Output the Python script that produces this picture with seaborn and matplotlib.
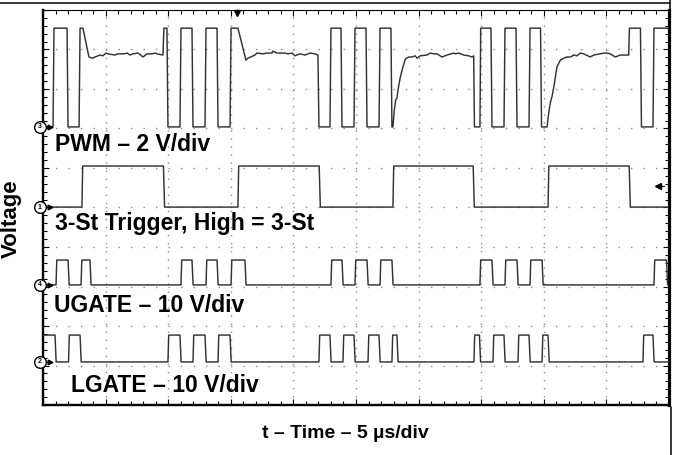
import matplotlib
matplotlib.use("Agg")
import matplotlib.pyplot as plt
import pandas as pd
import seaborn as sns
from matplotlib.lines import Line2D
from matplotlib.ticker import MultipleLocator

# ---------------- data (time in µs, 5 µs/div; voltage in screen divisions) -------------
pwm_time = [0.00, 0.80, 0.88, 1.92, 2.00, 2.88, 2.96, 3.19, 3.67, 3.99,
            4.15, 4.55, 4.79, 5.03, 5.19, 5.75, 5.99, 6.47, 6.71, 6.95,
            7.19, 7.59, 7.99, 8.31, 8.71, 8.95, 9.11, 9.58, 9.66, 9.90,
            9.98, 10.94, 11.02, 11.90, 11.98, 12.94, 13.02, 13.90, 13.98, 14.94,
            15.02, 15.57, 16.21, 16.37, 16.93, 17.09, 17.57, 17.89, 18.29, 18.37,
            18.69, 19.33, 19.57, 19.89, 20.13, 20.53, 20.93, 21.33, 21.72, 21.96,
            22.04, 22.92, 23.00, 23.80, 23.88, 24.84, 24.92, 25.80, 25.88, 26.84,
            26.92, 27.79, 27.87, 27.95, 28.06, 28.17, 28.27, 28.35, 28.54, 28.75,
            28.94, 29.21, 29.47, 29.74, 29.87, 30.13, 30.67, 30.93, 31.21, 31.47,
            31.87, 32.27, 32.80, 32.93, 33.20, 33.60, 34.00, 34.26, 34.40, 34.46,
            34.90, 34.96, 35.78, 35.86, 36.82, 36.90, 37.78, 37.86, 38.82, 38.90,
            39.74, 39.82, 40.26, 40.39, 40.52, 40.65, 40.79, 40.92, 41.05, 41.32,
            41.59, 41.85, 42.12, 42.39, 42.65, 42.91, 43.19, 43.71, 43.98, 44.51,
            44.78, 45.05, 45.31, 45.71, 46.11, 46.64, 46.78, 46.84, 47.72, 47.80,
            48.72, 48.80, 50.00]
pwm_volt = [7.04, 7.04, 9.54, 9.54, 7.04, 7.04, 9.54, 9.54, 8.81, 8.78,
            8.81, 8.86, 8.84, 8.91, 8.89, 8.86, 8.89, 8.89, 8.91, 8.86,
            8.89, 8.91, 8.81, 8.89, 8.89, 8.91, 8.89, 8.86, 9.54, 9.54,
            7.04, 7.04, 9.54, 9.54, 7.04, 7.04, 9.54, 9.54, 7.04, 7.04,
            9.54, 9.54, 8.73, 8.78, 8.86, 8.91, 8.89, 8.91, 8.91, 8.96,
            8.91, 8.91, 8.89, 8.91, 8.84, 8.89, 8.86, 8.91, 8.89, 8.86,
            7.04, 7.04, 9.54, 9.54, 7.04, 7.04, 9.54, 9.54, 7.04, 7.04,
            9.54, 9.54, 7.04, 7.04, 7.47, 7.72, 7.77, 7.97, 8.30, 8.56,
            8.76, 8.81, 8.81, 8.84, 8.78, 8.84, 8.86, 8.91, 8.89, 8.89,
            8.81, 8.86, 8.91, 8.89, 8.91, 8.86, 8.84, 8.81, 8.84, 7.04,
            7.04, 9.54, 9.54, 7.04, 7.04, 9.54, 9.54, 7.04, 7.04, 9.54,
            9.54, 7.04, 7.04, 7.39, 7.65, 7.80, 8.03, 8.30, 8.56, 8.73,
            8.78, 8.81, 8.81, 8.86, 8.84, 8.91, 8.89, 8.81, 8.86, 8.89,
            8.91, 8.91, 8.89, 8.81, 8.86, 8.86, 8.86, 9.54, 9.54, 7.04,
            7.04, 9.54, 9.54]

trig_rise = [3.11, 15.57, 27.95, 40.34]
trig_fall = [9.62, 22.06, 34.36, 46.82]
trig_levels = [5.01, 6.05]

ugate_rise = [1.04, 3.04, 11.02, 13.02, 15.02, 23.00, 24.92, 26.92, 34.90, 36.90, 38.90, 48.80]
ugate_fall = [2.00, 3.75, 11.90, 13.90, 16.13, 23.88, 25.88, 27.87, 35.86, 37.86, 39.86, 49.80]
ugate_levels = [3.04, 3.67]

lgate_rise = [0.00, 2.04, 9.98, 11.98, 13.98, 22.04, 23.96, 25.96, 27.87, 34.42, 35.94, 37.94, 39.86, 47.92]
lgate_fall = [0.96, 2.96, 10.94, 12.94, 14.94, 22.92, 24.84, 26.84, 28.27, 34.86, 36.82, 38.82, 40.34, 48.72]
lgate_levels = [1.09, 1.77]

channel_ids = ["3", "1", "4", "2"]
channel_ground = [7.04, 5.01, 3.04, 1.09]
channel_labels = ["PWM \u2013 2 V/div", "3-St Trigger, High = 3-St",
                  "UGATE \u2013 10 V/div", "LGATE \u2013 10 V/div"]
label_pos_t = [0.96, 0.96, 0.88, 2.24]
label_pos_v = [6.43, 4.43, 2.35, 0.33]

trigger_time = 15.5
trigger_level = 5.54


def step_wave(rises, falls, levels, t0=0.0, t1=50.0, edge=0.06):
    low, high = levels
    pts = []
    for s, e in zip(rises, falls):
        if s <= t0:
            pts.append((t0, high))
        else:
            if not pts:
                pts.append((t0, low))
            pts += [(s, low), (s + edge, high)]
        if e >= t1:
            pts.append((t1, high))
        else:
            pts += [(e, high), (e + edge * 1.5, low)]
    if pts[-1][0] < t1:
        pts.append((t1, low))
    return pd.DataFrame(pts, columns=["t", "v"])


sns.set_theme(style="white")
plt.rcParams['font.family'] = ['Liberation Sans', 'DejaVu Sans']

fig = plt.figure(figsize=(6.77, 4.55), dpi=100)
ax = fig.add_axes([43 / 677, 50 / 455, 626 / 677, 395 / 455])

trace_color = "#333333"
waves = [pd.DataFrame({"t": pwm_time, "v": pwm_volt}),
         step_wave(trig_rise, trig_fall, trig_levels),
         step_wave(ugate_rise, ugate_fall, ugate_levels),
         step_wave(lgate_rise, lgate_fall, lgate_levels)]
for df in waves:
    sns.lineplot(data=df, x="t", y="v", sort=False, estimator=None,
                 color=trace_color, linewidth=1.05, ax=ax, zorder=3)

ax.set_xlim(0, 50)
ax.set_ylim(0, 10)
ax.xaxis.set_major_locator(MultipleLocator(5))
ax.xaxis.set_minor_locator(MultipleLocator(1))
ax.yaxis.set_major_locator(MultipleLocator(1))
ax.yaxis.set_minor_locator(MultipleLocator(0.2))
ax.tick_params(which='both', direction='in', top=True, right=True, bottom=True, left=True,
               labelbottom=False, labelleft=False, color='black', width=0.8)
ax.tick_params(which='major', length=4.5)
ax.tick_params(which='minor', length=2.6)

ax.set_axisbelow(True)
ax.xaxis.grid(True, which='major', color='#8c8c8c', linestyle=(0, (1, 4.8)), linewidth=1.0)
ax.yaxis.grid(True, which='major', color='#8c8c8c', linestyle=(0, (1, 8.0)), linewidth=1.0)

for side, lw in [("left", 1.7), ("bottom", 1.7), ("right", 2.3), ("top", 0.8)]:
    ax.spines[side].set_visible(True)
    ax.spines[side].set_color("black")
    ax.spines[side].set_linewidth(lw)

# channel labels
for txt, tx, ty in zip(channel_labels, label_pos_t, label_pos_v):
    ax.text(tx, ty, txt, fontsize=16.5, fontweight='bold', ha='left', va='baseline',
            color='black', zorder=5)

# channel ground markers
ytr = ax.get_yaxis_transform()
for cid, lvl in zip(channel_ids, channel_ground):
    ax.plot([0.0, 0.011], [lvl, lvl], color='black', lw=0.9, transform=ytr,
            clip_on=False, zorder=6)
    ax.plot([0.0115], [lvl], marker='>', ms=3.4, color='black', transform=ytr,
            clip_on=False, zorder=6, lw=0)
    ax.plot([-0.0055], [lvl], marker='o', ms=8.4, mfc='white', mec='black', mew=1.0,
            transform=ytr, clip_on=False, zorder=7, lw=0)
    ax.text(-0.0055, lvl, cid, fontsize=5, fontweight='bold', ha='center', va='center',
            transform=ytr, zorder=8, color='black')

# trigger markers
ax.plot([trigger_time], [0.992], marker='v', ms=5, color='black',
        transform=ax.get_xaxis_transform(), clip_on=False, zorder=6, lw=0)
ax.plot([trigger_time + 33.6], [trigger_level], marker='<', ms=4.2, color='black',
        zorder=6, lw=0)
ax.plot([trigger_time + 33.7, trigger_time + 34.1], [trigger_level, trigger_level],
        color='black', lw=0.8, zorder=6)

# axis labels
ax.set_xlabel("t \u2013 Time \u2013 5 \u00b5s/div", fontsize=14, fontweight='bold', color='black')
ax.xaxis.set_label_coords(0.4824, (405 - 438) / 395)
ax.xaxis.label.set_va('baseline')
ax.set_ylabel("Voltage", fontsize=16, fontweight='bold', color='black')
ax.yaxis.set_label_coords((17 - 43) / 626, (405 - 219) / 395)
ax.yaxis.label.set_va('baseline')

# page frame lines from the source document
fig.add_artist(Line2D([0, 670 / 677], [1 - 3 / 455] * 2, color='black', lw=1.1,
                      transform=fig.transFigure))
fig.add_artist(Line2D([670 / 677] * 2, [1.0, 1 - 9 / 455], color='black', lw=1.1,
                      transform=fig.transFigure))
fig.add_artist(Line2D([671 / 677] * 2, [0.0, (455 - 407) / 455], color='black', lw=1.1,
                      transform=fig.transFigure))

fig.savefig("out.png", dpi=100)
